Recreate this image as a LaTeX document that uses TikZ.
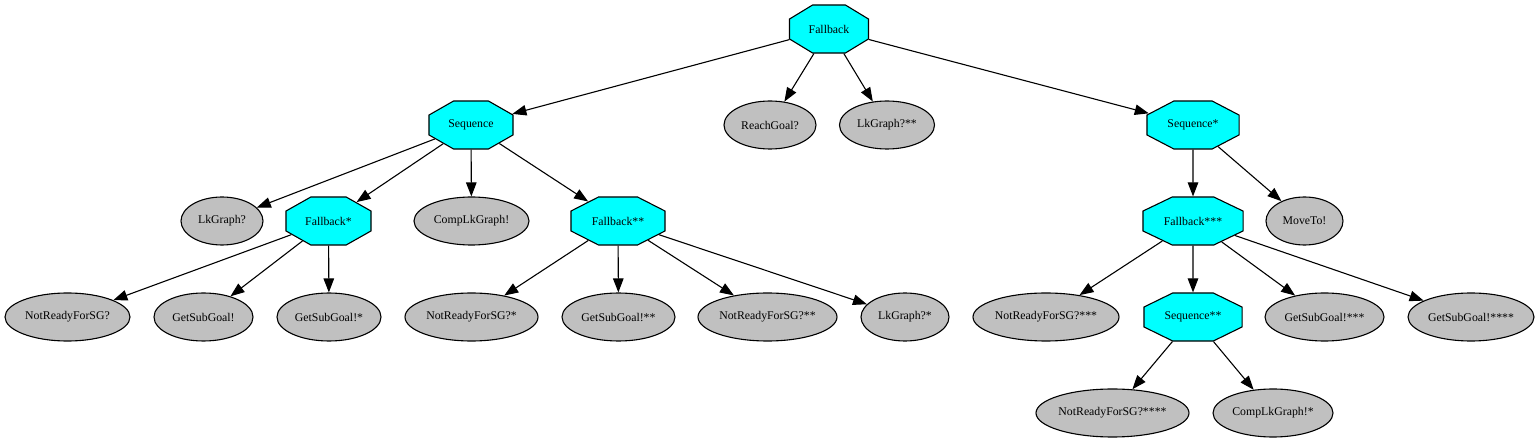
\documentclass[tikz,border=0pt]{standalone}
\usepackage{fontspec}
\setmainfont{Liberation Serif}
\usetikzlibrary{shapes.geometric, arrows.meta}
\definecolor{leafgray}{RGB}{192,192,192}
\definecolor{ctrlcyan}{RGB}{0,255,255}
\newcommand\oct[1]{\scalebox{\fpeval{48/\octw}}[1]{#1}}
\tikzset{
  ctrl/.style={regular polygon, regular polygon sides=8, draw, fill=ctrlcyan,
    line width=1.1pt, inner sep=0pt, minimum size=52pt, xscale=#1/48,
    execute at begin node={\def\octw{#1}}},
  leaf/.style={ellipse, draw, fill=leafgray, line width=1.1pt, inner sep=0pt,
    minimum height=48pt, minimum width=#1},
  link/.style={line width=1.1pt, -{Triangle[length=14pt, width=10.5pt]}},
}
\begin{document}
\begin{tikzpicture}[x=1pt, y=-1pt, font=\fontsize{11.8}{14}\selectfont]
  \useasboundingbox (0, 0) rectangle (1540, 443);
  % root
  \node[ctrl=79] (fb) at (829, 29) {\oct{Fallback}};
  % level 1
  \node[ctrl=84] (seq) at (471, 125) {\oct{Sequence}};
  \node[leaf=92] (reach) at (770, 125) {ReachGoal?};
  \node[leaf=95] (lkgB) at (887, 125) {LkGraph?**};
  \node[ctrl=92] (seqA) at (1193, 125) {\oct{Sequence*}};
  % level 2
  \node[leaf=82] (lkg) at (222, 221) {LkGraph?};
  \node[ctrl=85] (fbA) at (328.5, 221) {\oct{Fallback*}};
  \node[leaf=115] (comp) at (471.5, 221) {CompLkGraph!};
  \node[ctrl=94] (fbB) at (618, 221) {\oct{Fallback**}};
  \node[ctrl=100] (fbC) at (1193, 221) {\oct{Fallback***}};
  \node[leaf=77] (move) at (1304.5, 221) {MoveTo!};
  % level 3
  \node[leaf=125] (nr) at (67.5, 317) {NotReadyForSG?};
  \node[leaf=99] (gs) at (203.5, 317) {GetSubGoal!};
  \node[leaf=104] (gsA) at (329, 317) {GetSubGoal!*};
  \node[leaf=133] (nrA) at (471.5, 317) {NotReadyForSG?*};
  \node[leaf=113] (gsB) at (618.5, 317) {GetSubGoal!**};
  \node[leaf=139] (nrB) at (767.5, 317) {NotReadyForSG?**};
  \node[leaf=88] (lkgA) at (905, 317) {LkGraph?*};
  \node[leaf=146] (nrC) at (1046, 317) {NotReadyForSG?***};
  \node[ctrl=98] (seqB) at (1193, 317) {\oct{Sequence**}};
  \node[leaf=119] (gsC) at (1324.5, 317) {GetSubGoal!***};
  \node[leaf=126] (gsD) at (1471, 317) {GetSubGoal!****};
  % level 4
  \node[leaf=153] (nrD) at (1112.5, 413) {NotReadyForSG?****};
  \node[leaf=120] (compA) at (1273, 413) {CompLkGraph!*};
  % edges
  \draw[link] (fb) -- (seq);
  \draw[link] (fb) -- (reach);
  \draw[link] (fb) -- (lkgB);
  \draw[link] (fb) -- (seqA);
  \draw[link] (seq) -- (lkg);
  \draw[link] (seq) -- (fbA);
  \draw[link] (seq) -- (comp);
  \draw[link] (seq) -- (fbB);
  \draw[link] (fbA) -- (nr);
  \draw[link] (fbA) -- (gs);
  \draw[link] (fbA) -- (gsA);
  \draw[link] (fbB) -- (nrA);
  \draw[link] (fbB) -- (gsB);
  \draw[link] (fbB) -- (nrB);
  \draw[link] (fbB) -- (lkgA);
  \draw[link] (seqA) -- (fbC);
  \draw[link] (seqA) -- (move);
  \draw[link] (fbC) -- (nrC);
  \draw[link] (fbC) -- (seqB);
  \draw[link] (fbC) -- (gsC);
  \draw[link] (fbC) -- (gsD);
  \draw[link] (seqB) -- (nrD);
  \draw[link] (seqB) -- (compA);
\end{tikzpicture}
\end{document}
